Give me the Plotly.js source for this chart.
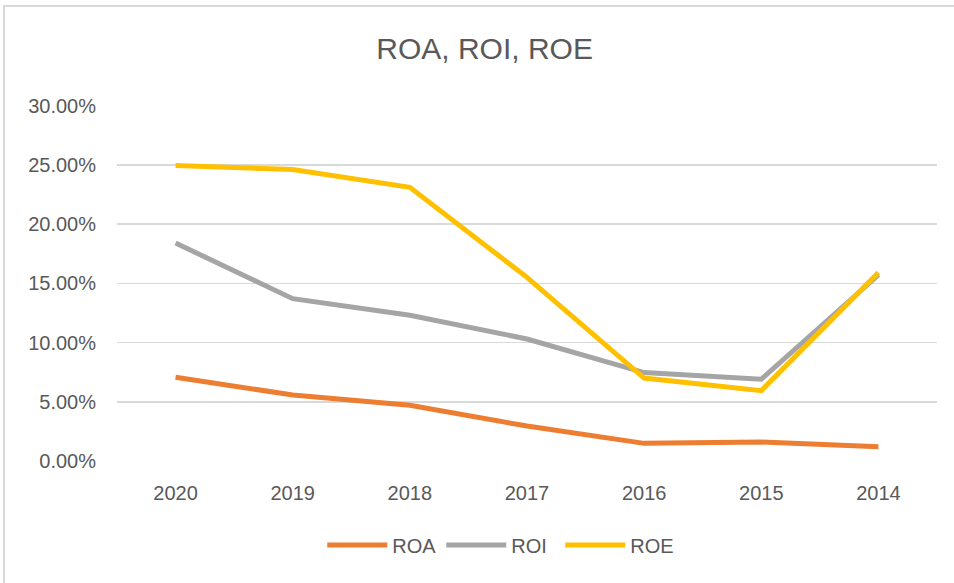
<!DOCTYPE html>
<html>
<head>
<meta charset="utf-8">
<script src="https://cdn.plot.ly/plotly-3.0.1.min.js"></script>
<style>
html,body{margin:0;padding:0;background:#fff;}
#frame{position:absolute;left:0;top:0;width:954px;height:583px;overflow:hidden;}
#chart{position:absolute;left:0;top:0;width:954px;height:583px;}
#border{position:absolute;left:3px;top:5px;width:960px;height:600px;border:2px solid #d9d9d9;box-sizing:border-box;pointer-events:none;}
</style>
</head>
<body>
<div id="frame"><div id="chart"></div><div id="border"></div></div>
<script>
const years = ["2020","2019","2018","2017","2016","2015","2014"];
const roa = [0.0707, 0.0557, 0.0470, 0.0295, 0.0149, 0.0160, 0.0121];
const roi = [0.1840, 0.1370, 0.1230, 0.1030, 0.0746, 0.0690, 0.1570];
const roe = [0.2495, 0.2460, 0.2310, 0.1550, 0.0700, 0.0594, 0.1590];
const names = ["ROA","ROI","ROE"];
const colors = ["#ED7D31","#A5A5A5","#FFC000"];
const series = [roa, roi, roe];

const font = "Liberation Sans, Arial, sans-serif";
const traces = series.map((s,i)=>({
  x: years, y: s, name: names[i], type: "scatter", mode: "lines",
  line: {color: colors[i], width: 5}
}));

const layout = {
  width: 954, height: 583,
  margin: {l:117, r:17, t:105, b:122},
  paper_bgcolor: "#fff", plot_bgcolor: "#fff",
  title: {text: "ROA, ROI, ROE", x: 0.508, xanchor: "center", y: 0.916, yanchor: "middle",
          font: {family: font, size: 30, color: "#595959"}},
  font: {family: font, color: "#595959"},
  xaxis: {type: "category", range: [-0.5, 6.5], showgrid: false, zeroline: false, showline: false,
          ticks: "", tickfont: {size: 20, color: "#595959"}, ticklabelstandoff: 18, fixedrange: true},
  yaxis: {range: [0, 0.3005], dtick: 0.05, tick0: 0, tickformat: ".2%", showgrid: true,
          gridcolor: "#d9d9d9", gridwidth: 1.5, zeroline: false, showline: false, ticks: "",
          tickfont: {size: 20, color: "#595959"}, ticklabelstandoff: 20, fixedrange: true},
  showlegend: true,
  legend: {orientation: "h", x: 0.468, xanchor: "center", y: -0.236, yanchor: "middle",
           font: {size: 20, color: "#595959"}, itemwidth: 60, entrywidth: 44, entrywidthmode: "pixels",
           traceorder: "normal"}
};
Plotly.newPlot("chart", traces, layout, {displayModeBar: false, staticPlot: true});
</script>
</body>
</html>
